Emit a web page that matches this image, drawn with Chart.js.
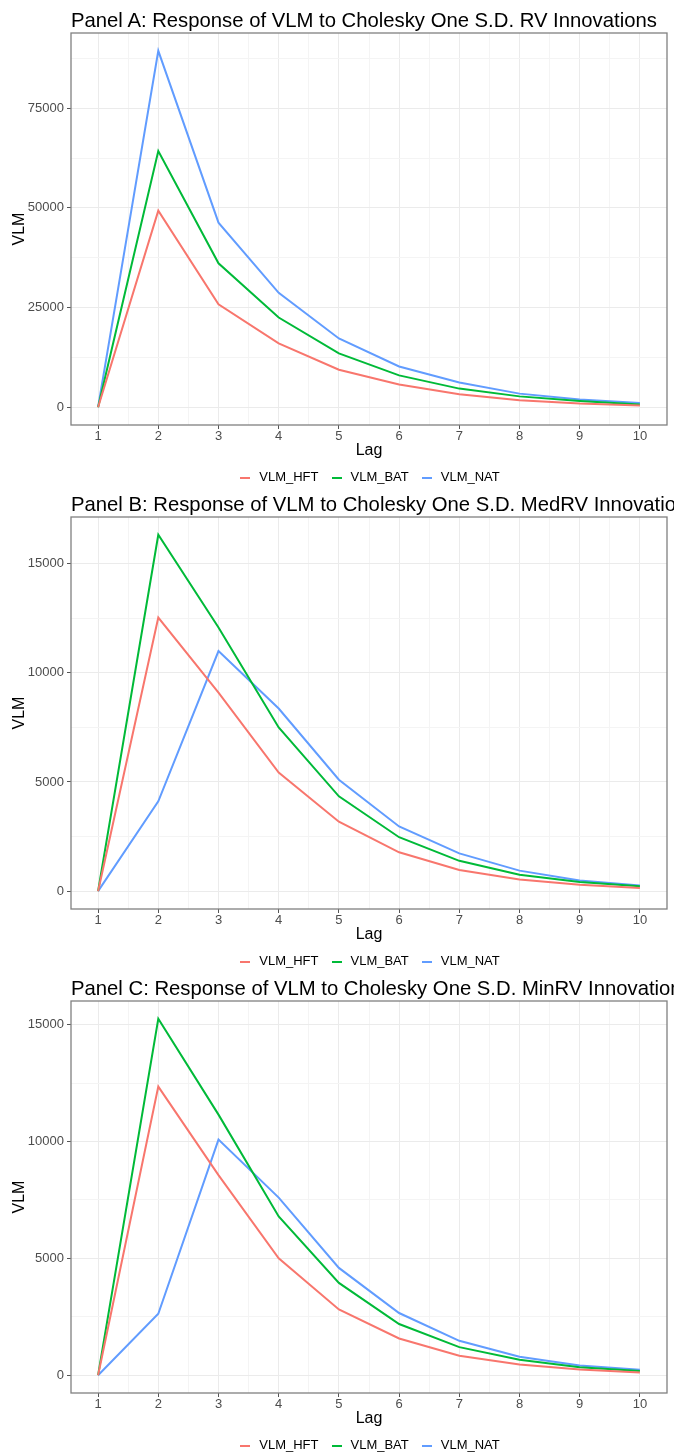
<!DOCTYPE html>
<html>
<head>
<meta charset="utf-8">
<script src="https://cdn.jsdelivr.net/npm/chart.js@4/dist/chart.umd.min.js"></script>
<style>
  html, body { margin: 0; padding: 0; background: #ffffff; }
  body { width: 674px; height: 1453px; overflow: hidden; position: relative; font-family: "Liberation Sans", Arial, sans-serif; }
  .panel { position: absolute; left: 0; width: 674px; height: 500px; }
  .panel canvas { position: absolute; left: 0; top: 0; }
  .ttl { position: absolute; left: 71px; top: 8px; font-size: 20.3px; line-height: 24px; white-space: nowrap; color: #000; z-index: 2; }
</style>
</head>
<body>
<div class="panel" style="top:0px"><div class="ttl" id="tA"></div><canvas id="cA" width="674" height="500"></canvas></div>
<div class="panel" style="top:484px"><div class="ttl" id="tB"></div><canvas id="cB" width="674" height="500"></canvas></div>
<div class="panel" style="top:968px"><div class="ttl" id="tC"></div><canvas id="cC" width="674" height="500"></canvas></div>
<script>
// ---------- data ----------
const lags = [1, 2, 3, 4, 5, 6, 7, 8, 9, 10];
const seriesNames = ['VLM_HFT', 'VLM_BAT', 'VLM_NAT'];
const seriesColors = ['#F8766D', '#00BA38', '#619CFF'];

const titleA = 'Panel A: Response of VLM to Cholesky One S.D. RV Innovations';
const titleB = 'Panel B: Response of VLM to Cholesky One S.D. MedRV Innovations';
const titleC = 'Panel C: Response of VLM to Cholesky One S.D. MinRV Innovations';

// Panel A (RV)
const rvHFT = [0, 49300, 25800, 16000, 9400, 5700, 3250, 1750, 900, 400];
const rvBAT = [0, 64250, 36100, 22500, 13500, 7970, 4660, 2710, 1530, 650];
const rvNAT = [0, 89400, 46300, 28700, 17230, 10200, 6200, 3400, 1900, 1050];
// Panel B (MedRV)
const medHFT = [0, 12520, 9090, 5430, 3180, 1780, 970, 540, 290, 150];
const medBAT = [0, 16310, 12070, 7490, 4340, 2470, 1390, 750, 420, 230];
const medNAT = [0, 4110, 10990, 8360, 5100, 2960, 1730, 940, 490, 260];
// Panel C (MinRV)
const minHFT = [0, 12350, 8560, 5000, 2810, 1570, 830, 460, 240, 110];
const minBAT = [0, 15250, 11150, 6790, 3950, 2190, 1200, 660, 340, 180];
const minNAT = [0, 2630, 10080, 7600, 4590, 2660, 1470, 790, 410, 230];

// tick labels
const xMajorTicks = [1, 2, 3, 4, 5, 6, 7, 8, 9, 10];
const xMinorTicks = [1.5, 2.5, 3.5, 4.5, 5.5, 6.5, 7.5, 8.5, 9.5];
const yMajorA = [0, 25000, 50000, 75000];
const yMinorA = [12500, 37500, 62500, 87500];
const yMajorBC = [0, 5000, 10000, 15000];
const yMinorBC = [2500, 7500, 12500];

// ---------- helpers ----------
const FONT = '"Liberation Sans", Arial, sans-serif';

function expandRange(vals) {
  const lo = Math.min(...vals), hi = Math.max(...vals);
  const pad = (hi - lo) * 0.05;
  return [lo - pad, hi + pad];
}

function legendMarker(color) {
  const c = document.createElement('canvas');
  c.width = 10; c.height = 2;
  const g = c.getContext('2d');
  g.fillStyle = color;
  g.fillRect(0, 0, 10, 2);
  return c;
}

const framePlugin = {
  id: 'frame',
  afterDatasetsDraw(chart) {
    const {ctx, chartArea: a} = chart;
    ctx.save();
    ctx.strokeStyle = '#808080';
    ctx.lineWidth = 1.3;
    ctx.strokeRect(a.left, a.top, a.right - a.left, a.bottom - a.top);
    ctx.restore();
  }
};

function makeChart(canvasId, series, yMajor, yMinor) {
  const [xmin, xmax] = expandRange(lags);
  const [ymin, ymax] = expandRange(series.flat());
  const xAll = xMajorTicks.concat(xMinorTicks).filter(v => v >= xmin && v <= xmax).sort((a, b) => a - b);
  const yAll = yMajor.concat(yMinor).filter(v => v >= ymin && v <= ymax).sort((a, b) => a - b);
  const isMajorX = v => xMajorTicks.includes(v);
  const isMajorY = v => yMajor.includes(v);

  const datasets = series.map((arr, i) => ({
    label: seriesNames[i],
    data: lags.map((l, j) => ({x: l, y: arr[j]})),
    borderColor: seriesColors[i],
    backgroundColor: seriesColors[i],
    borderWidth: 2,
    pointRadius: 0,
    pointHoverRadius: 0,
    pointStyle: legendMarker(seriesColors[i]),
    tension: 0,
    fill: false
  }));

  return new Chart(document.getElementById(canvasId), {
    type: 'line',
    data: {datasets},
    options: {
      responsive: false,
      animation: false,
      events: [],
      layout: {padding: {top: 33, right: 7, bottom: 6, left: 0}},
      plugins: {
        title: {display: false},
        tooltip: {enabled: false},
        legend: {
          position: 'bottom',
          fullSize: false,
          labels: {
            usePointStyle: true,
            pointStyleWidth: 14.5,
            boxHeight: 13,
            padding: 11,
            color: '#000',
            font: {family: FONT, size: 13}
          }
        }
      },
      scales: {
        x: {
          type: 'linear',
          min: xmin,
          max: xmax,
          afterBuildTicks: s => { s.ticks = xAll.map(v => ({value: v})); },
          afterFit: s => { s.height = 35; },
          border: {display: false},
          grid: {
            color: c => (c.tick && isMajorX(c.tick.value)) ? '#EBEBEB' : '#F4F4F4',
            lineWidth: 1,
            tickColor: c => (c.tick && isMajorX(c.tick.value)) ? '#555555' : 'rgba(0,0,0,0)',
            tickLength: 4,
            drawTicks: true
          },
          ticks: {
            autoSkip: false,
            maxRotation: 0,
            minRotation: 0,
            padding: 1,
            color: '#4D4D4D',
            font: {family: FONT, size: 13, lineHeight: 1},
            callback: v => isMajorX(v) ? String(v) : ''
          },
          title: {
            display: true,
            text: 'Lag',
            color: '#000',
            font: {family: FONT, size: 16},
            padding: {top: 0, bottom: -0.5}
          }
        },
        y: {
          type: 'linear',
          min: ymin,
          max: ymax,
          afterBuildTicks: s => { s.ticks = yAll.map(v => ({value: v})); },
          afterFit: s => { s.width = 71; },
          border: {display: false},
          grid: {
            color: c => (c.tick && isMajorY(c.tick.value)) ? '#EBEBEB' : '#F4F4F4',
            lineWidth: 1,
            tickColor: c => (c.tick && isMajorY(c.tick.value)) ? '#555555' : 'rgba(0,0,0,0)',
            tickLength: 4,
            drawTicks: true
          },
          ticks: {
            autoSkip: false,
            padding: 3,
            color: '#4D4D4D',
            font: {family: FONT, size: 13},
            callback: v => isMajorY(v) ? String(v) : ''
          },
          title: {
            display: true,
            text: 'VLM',
            color: '#000',
            font: {family: FONT, size: 16},
            padding: {top: 10.4, bottom: 0}
          }
        }
      }
    },
    plugins: [framePlugin]
  });
}

document.getElementById('tA').textContent = titleA;
document.getElementById('tB').textContent = titleB;
document.getElementById('tC').textContent = titleC;

makeChart('cA', [rvHFT, rvBAT, rvNAT], yMajorA, yMinorA);
makeChart('cB', [medHFT, medBAT, medNAT], yMajorBC, yMinorBC);
makeChart('cC', [minHFT, minBAT, minNAT], yMajorBC, yMinorBC);
</script>
</body>
</html>
